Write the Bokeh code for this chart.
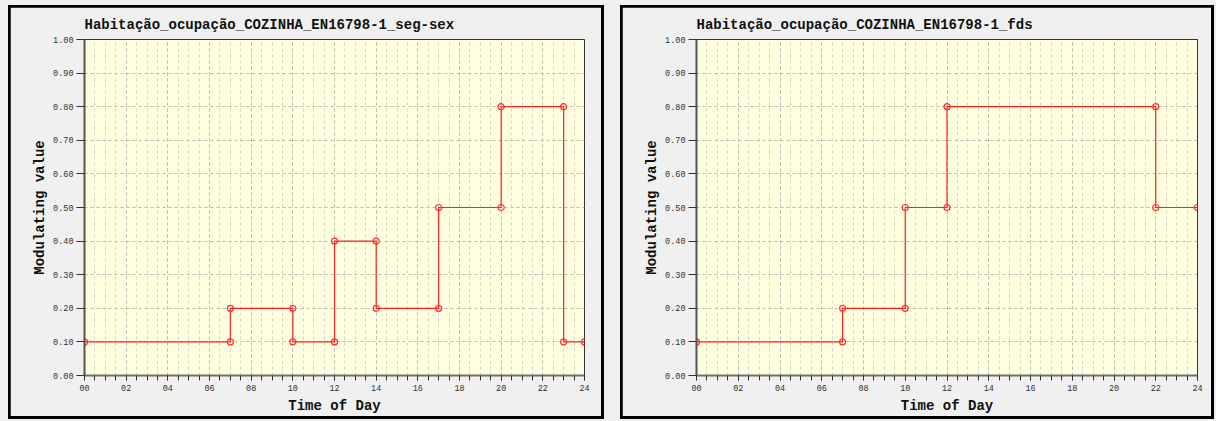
from bokeh.plotting import figure
from bokeh.layouts import row, column
from bokeh.models import FixedTicker, Title, NumeralTickFormatter
from bokeh.embed import file_html
from bokeh.resources import INLINE

# Schedule breakpoints (hour of day) and the modulating value held over each interval
weekday_title = "Habitação_ocupação_COZINHA_EN16798-1_seg-sex"
weekday_hours = [0, 7, 10, 12, 14, 17, 20, 23, 24]
weekday_values = [0.1, 0.2, 0.1, 0.4, 0.2, 0.5, 0.8, 0.1]

weekend_title = "Habitação_ocupação_COZINHA_EN16798-1_fds"
weekend_hours = [0, 7, 10, 12, 22, 24]
weekend_values = [0.1, 0.2, 0.5, 0.8, 0.5]

hour_ticks = [0, 2, 4, 6, 8, 10, 12, 14, 16, 18, 20, 22, 24]
hour_labels = ["00", "02", "04", "06", "08", "10", "12", "14", "16", "18", "20", "22", "24"]
half_hour_ticks = [h / 2 for h in range(0, 49)]
value_ticks = [0.0, 0.1, 0.2, 0.3, 0.4, 0.5, 0.6, 0.7, 0.8, 0.9, 1.0]

MONO = "Liberation Mono"
PANEL_BG = "#f0f0f0"


def step_vertices(hours, values):
    xs, ys = [], []
    for i, v in enumerate(values):
        xs += [hours[i], hours[i + 1]]
        ys += [v, v]
    return xs, ys


def schedule_panel(title, hours, values, width, right_border):
    p = figure(
        width=width, height=409,
        x_range=(0, 24), y_range=(0, 1),
        output_backend="svg", toolbar_location=None,
        min_border_left=74, min_border_right=right_border,
        min_border_top=32, min_border_bottom=40,
        background_fill_color="#ffffe0",
        border_fill_color=PANEL_BG,
        outline_line_color="#333333", outline_line_width=1,
    )
    p.title = Title(text=title, align="left", text_font=MONO,
                    text_font_size="14px", text_font_style="bold",
                    text_color="#111111", standoff=14)

    # x axis: labels every two hours, ticks every half hour
    p.xaxis.ticker = FixedTicker(ticks=hour_ticks, minor_ticks=half_hour_ticks)
    p.xaxis.major_label_overrides = {h: lab for h, lab in zip(hour_ticks, hour_labels)}
    p.xaxis.axis_label = "Time of Day"
    p.yaxis.ticker = FixedTicker(ticks=value_ticks)
    p.yaxis.formatter = NumeralTickFormatter(format="0.00")
    p.yaxis.axis_label = "Modulating value"

    for ax in (p.xaxis, p.yaxis):
        ax.axis_line_color = "#555555"
        ax.axis_line_width = 2
        ax.major_tick_line_color = "#333333"
        ax.minor_tick_line_color = "#333333"
        ax.major_label_text_font = MONO
        ax.major_label_text_font_size = "8.5px"
        ax.major_label_text_color = "#333333"
        ax.axis_label_text_font = MONO
        ax.axis_label_text_font_size = "14px"
        ax.axis_label_text_font_style = "bold"
        ax.axis_label_text_color = "#111111"
    p.xaxis.axis_line_color = "#6e6e6e"
    p.xaxis.major_tick_out = 5
    p.xaxis.major_tick_in = 0
    p.xaxis.minor_tick_out = 5
    p.xaxis.minor_tick_in = 0
    p.xaxis.major_label_standoff = 4
    p.xaxis.axis_label_standoff = 4
    p.yaxis.major_tick_out = 8
    p.yaxis.major_tick_in = 0
    p.yaxis.minor_tick_line_color = None
    p.yaxis.major_label_standoff = 3
    p.yaxis.axis_label_standoff = 2

    # dashed grid: labelled hours darker, half-hours lighter
    p.xgrid.grid_line_color = "#b8b8b8"
    p.xgrid.grid_line_dash = "3 3"
    p.xgrid.minor_grid_line_color = "#d4d4c4"
    p.xgrid.minor_grid_line_dash = "3 3"
    p.ygrid.grid_line_color = "#b8b8b8"
    p.ygrid.grid_line_dash = "3 3"

    xs, ys = step_vertices(hours, values)
    p.line(xs, ys, line_color="#ff2020", line_width=1.2)
    p.scatter(xs, ys, marker="circle", size=6, fill_color=None,
              line_color="#ff3030", line_width=1.2)

    # thin black frame round the panel: black box behind the figure's margins
    p.margin = (2, 3, 3, 2)
    return column(p, styles={"background-color": "#000000"})


box1 = schedule_panel(weekday_title, weekday_hours, weekday_values, 591, 17)
box2 = schedule_panel(weekend_title, weekend_hours, weekend_values, 589, 14)
box1.margin = (5, 0, 0, 8)
box2.margin = (5, 0, 0, 16)

layout = row(box1, box2, width=1216, height=421,
             styles={"background-color": PANEL_BG})

open("out.html", "w").write(file_html(layout, INLINE))
